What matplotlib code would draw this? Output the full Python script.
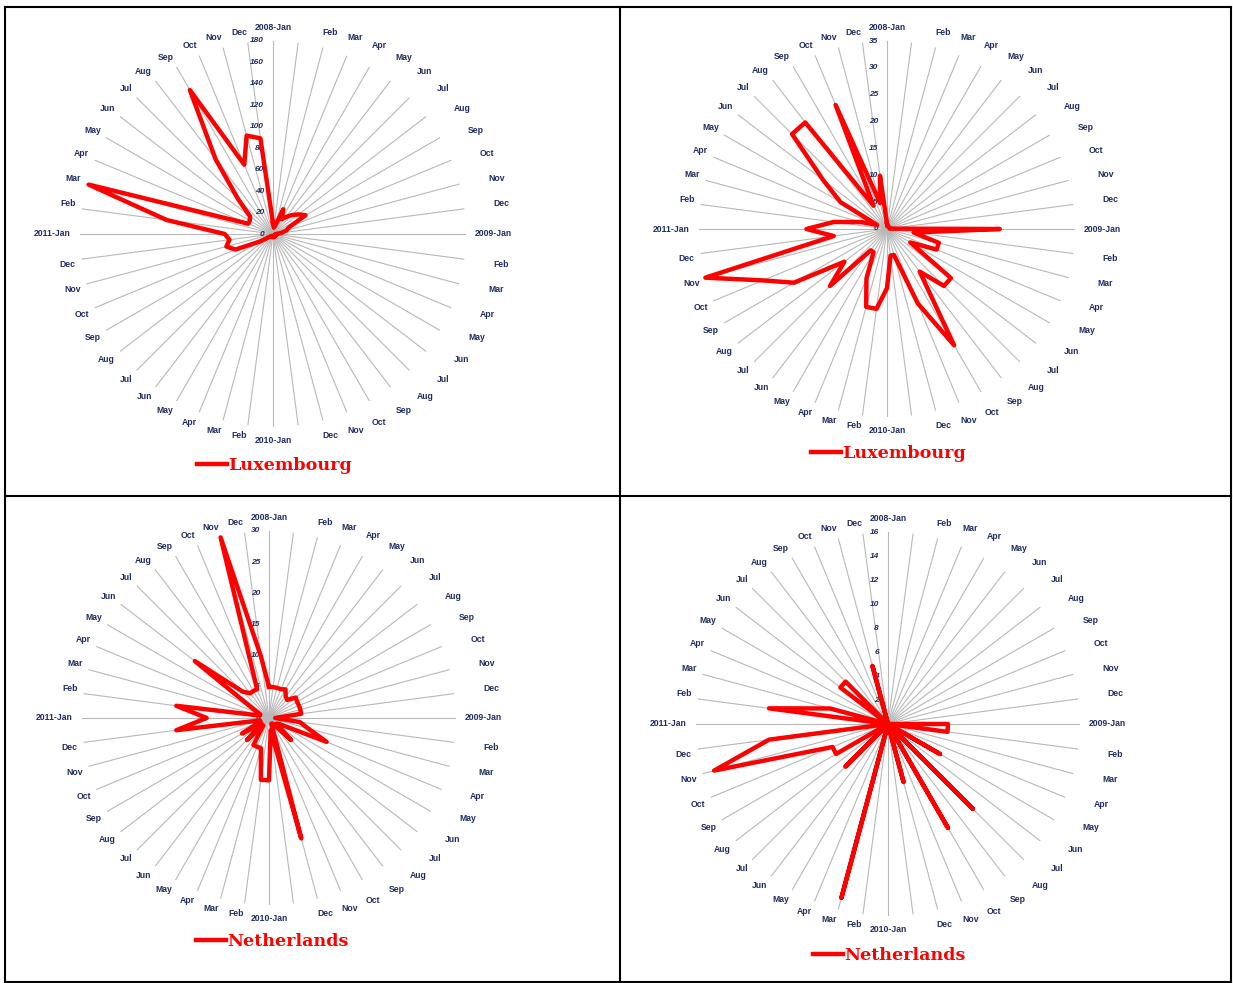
import numpy as np
import matplotlib.pyplot as plt
from matplotlib.lines import Line2D

W, H = 1233, 983

YEARS = [2008, 2009, 2010, 2011]
MONTHS = ['Jan', 'Feb', 'Mar', 'Apr', 'May', 'Jun',
          'Jul', 'Aug', 'Sep', 'Oct', 'Nov', 'Dec']
categories = [f'{y}-Jan' if m == 'Jan' else m for y in YEARS for m in MONTHS]

# monthly values, 2008-Jan .. 2011-Dec
lux_left = [10, 6, 8, 25, 16, 20, 25, 30, 35, 16, 13, 8,
            3, 3, 2, 3, 2, 2, 3, 2, 2, 3, 2, 3,
            3, 2, 2, 3, 2, 3, 3, 5, 14, 38, 45, 41,
            45, 100, 178, 25, 25, 27, 46, 88, 155, 70, 95, 90]
lux_right = [1, 0.5, 0.5, 0.5, 0.5, 0.5, 0.5, 0.5, 0.5, 0.5, 0.5, 0.5,
             21, 5, 10, 10, 5, 15, 15, 10, 25, 15, 5, 5,
             11, 15, 15, 10, 5, 5, 15, 10, 20, 25, 35, 10,
             15, 10, 5, 2, 10, 15, 25, 25, 5, 25, 5, 10]
neth_left = [5, 5, 5, 5, 5.3, 4.4, 4.1, 5.4, 5.2, 5.2, 5.2, 5.2,
             1, 5, 6.5, 10, 2, 1.5, 5, 1.5, 1, 1, 20, 2,
             10, 10, 5, 5, 5, 1.5, 5, 1.5, 5, 1.5, 1.5, 15,
             10, 15, 1.5, 1.5, 3, 15, 6, 5, 5, 5, 30, 10]
neth_right = [0, 0, 0, 0, 0, 0, 0, 0, 0, 0, 0, 0,
              5, 5, 0, 0, 5, 0, 10, 0, 10, 0, 5, 0,
              0, 0, 15, 0, 0, 0, 5, 0, 5, 5, 15, 10,
              0, 10, 5, 0, 0, 5, 5, 0, 0, 0, 5, 0]

# (values, legend name, axis max, tick step, centre x, centre y, radius, legend x, legend y)
panels = [
    (lux_left, 'Luxembourg', 180, 20, 273, 234, 193, 197, 466),
    (lux_right, 'Luxembourg', 35, 5, 887, 229, 188, 811, 454),
    (neth_left, 'Netherlands', 30, 5, 269, 718, 187, 196, 942),
    (neth_right, 'Netherlands', 16, 2, 888, 724, 192, 813, 956),
]

NAVY = '#1F2D62'
GRID = '#B8B8B8'

fig = plt.figure(figsize=(W / 100, H / 100), dpi=100)

n = len(categories)
theta = np.arange(n) * 2 * np.pi / n

for vals, name, rmax, step, cx, cy, r, lx, ly in panels:
    ax = fig.add_axes([(cx - r) / W, 1 - (cy + r) / H, 2 * r / W, 2 * r / H],
                      projection='polar')
    ax.set_theta_zero_location('N')
    ax.set_theta_direction(-1)
    ax.patch.set_alpha(0)
    ax.spines['polar'].set_visible(False)

    v = np.asarray(vals, dtype=float)
    ax.plot(np.append(theta, theta[0]), np.append(v, v[0]),
            color='#FF0000', lw=3.2, clip_on=False, zorder=4, label=name)

    ax.set_ylim(0, rmax)
    ticks = np.arange(0, rmax + step, step)
    ax.set_yticks(ticks)
    ax.set_yticklabels([])
    ax.set_xticks(theta)
    ax.set_xticklabels([])
    ax.tick_params(length=0)
    ax.yaxis.grid(False)
    ax.xaxis.grid(True, color=GRID, lw=0.8)

    for t in ticks:
        ax.annotate(f'{t:g}', xy=(0, t), xytext=(-6.5, 0), textcoords='offset points',
                    ha='right', va='center', fontsize=6, fontstyle='italic',
                    fontweight='bold', color=NAVY, family='Liberation Sans',
                    annotation_clip=False)

    # category labels round the rim (right-hand ones sit shifted outwards, as in the source)
    for i, lab in enumerate(categories):
        a = np.radians(i * 360 / n)
        s, c = np.sin(a), np.cos(a)
        if i % 12 == 0:
            pad = 6.5
            ox, oy = pad * s, pad * c
            ha = 'center' if abs(s) < 0.5 else ('left' if s > 0 else 'right')
            va = 'center' if abs(c) < 0.5 else ('bottom' if c > 0 else 'top')
        else:
            pad = 4.3
            ox, oy = pad * s, pad * c
            ha = 'left' if s > 0 else 'right'
            va = 'bottom' if c > 0 else 'top'
            if s > 0:
                ox += 16.5
        ax.annotate(lab, xy=(a, rmax), xytext=(ox, oy), textcoords='offset points',
                    ha=ha, va=va, fontsize=6.2, fontweight='bold', color=NAVY,
                    family='Liberation Sans', annotation_clip=False)

    ax.legend(loc='center left', bbox_to_anchor=(lx / W, 1 - ly / H),
              bbox_transform=fig.transFigure, frameon=False, borderpad=0,
              borderaxespad=0, handlelength=1.7, handletextpad=0.08,
              labelcolor='#FF0000',
              prop={'family': 'DejaVu Serif', 'weight': 'bold', 'size': 12.6})

# black frame round the four cells
frame = [([4.5, 1231], [6.5, 6.5]), ([4.5, 1231], [981.5, 981.5]),
         ([4.5, 4.5], [6.5, 981.5]), ([1231, 1231], [6.5, 981.5]),
         ([620, 620], [6.5, 981.5]), ([4.5, 1231], [495.5, 495.5])]
for xs, ys in frame:
    fig.add_artist(Line2D([x / W for x in xs], [1 - y / H for y in ys],
                          transform=fig.transFigure, color='black', lw=1.5))

fig.savefig('out.png', dpi=100, facecolor='white')
